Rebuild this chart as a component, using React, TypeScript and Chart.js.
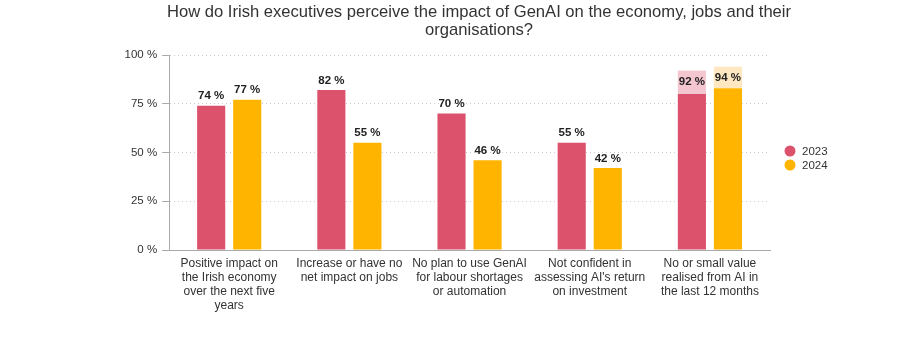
import React, { useEffect, useRef } from "react";
import { Chart, registerables } from "chart.js";

Chart.register(...registerables);

const titleLines = [
  "How do Irish executives perceive the impact of GenAI on the economy, jobs and their",
  "organisations?",
];
const categories = [
  ["Positive impact on", "the Irish economy", "over the next five", "years"],
  ["Increase or have no", "net impact on jobs"],
  ["No plan to use GenAI", "for labour shortages", "or automation"],
  ["Not confident in", "assessing AI's return", "on investment"],
  ["No or small value", "realised from AI in", "the last 12 months"],
];
const base2023 = [74, 82, 70, 55, 80];
const extra2023 = [0, 0, 0, 0, 12];
const base2024 = [77, 55, 46, 42, 83];
const extra2024 = [0, 0, 0, 0, 11];
const yTicks = [0, 25, 50, 75, 100];
const legendItems = ["2023", "2024"];

const FONT = "'Liberation Sans', Arial, sans-serif";
const RED = "#dc526d";
const RED_LIGHT = "#f4c6cf";
const YEL = "#ffb400";
const YEL_LIGHT = "#ffe7c2";

const labelPlugin = {
  id: "valueLabels",
  afterDraw(chart: any) {
    const ctx = chart.ctx;
    ctx.save();
    ctx.font = "bold 11.5px " + FONT;
    ctx.fillStyle = "#222";
    ctx.textAlign = "center";
    const pairs = [
      [0, 1, base2023, extra2023],
      [2, 3, base2024, extra2024],
    ];
    pairs.forEach(([bi, ei, b, e]: any) => {
      const bm = chart.getDatasetMeta(bi);
      const em = chart.getDatasetMeta(ei);
      b.forEach((v: number, i: number) => {
        const total = v + e[i];
        const bar = bm.data[i];
        if (e[i] > 0) {
          const eb = em.data[i];
          ctx.textBaseline = "middle";
          ctx.fillText(total + " %", eb.x, (eb.y + eb.base) / 2);
        } else {
          ctx.textBaseline = "bottom";
          ctx.fillText(total + " %", bar.x, bar.y - 4);
        }
      });
    });

    // title
    ctx.font = "16.6px " + FONT;
    ctx.fillStyle = "#333";
    ctx.textBaseline = "alphabetic";
    titleLines.forEach((t, i) => ctx.fillText(t, 479, 17 + i * 18));

    // legend
    const area = chart.chartArea;
    const colors = [RED, YEL];
    const cy = (area.top + area.bottom) / 2;
    ctx.font = "11.5px " + FONT;
    ctx.textAlign = "left";
    ctx.textBaseline = "middle";
    legendItems.forEach((t, i) => {
      const y = cy - 1.5 + i * 14;
      ctx.fillStyle = colors[i];
      ctx.beginPath();
      ctx.arc(area.right + 20, y, 5.5, 0, Math.PI * 2);
      ctx.fill();
      ctx.fillStyle = "#333";
      ctx.fillText(t, area.right + 32, y + 0.5);
    });
    ctx.restore();
  },
};

export default function App() {
  const ref = useRef<HTMLCanvasElement>(null);
  useEffect(() => {
    document.body.style.margin = "0";
    const ds = (label: string, data: number[], color: string, stack: string) => ({
      label, data, backgroundColor: color, stack, barPercentage: 0.78, categoryPercentage: 0.6,
    });
    const chart = new Chart(ref.current as HTMLCanvasElement, {
      type: "bar",
      data: {
        labels: categories as any,
        datasets: [
          ds("2023", base2023, RED, "a"),
          ds("2023 extra", extra2023, RED_LIGHT, "a"),
          ds("2024", base2024, YEL, "b"),
          ds("2024 extra", extra2024, YEL_LIGHT, "b"),
        ],
      },
      options: {
        animation: false,
        responsive: true,
        maintainAspectRatio: false,
        layout: { padding: { left: 119.5, right: 150, top: 55, bottom: 37 } },
        plugins: {
          title: { display: false },
          legend: { display: false },
          tooltip: { enabled: false },
        },
        scales: {
          x: {
            stacked: true,
            grid: { display: false, drawTicks: false },
            border: { display: true, color: "#aaa" },
            ticks: {
              color: "#333",
              padding: 7,
              maxRotation: 0,
              autoSkip: false,
              font: { size: 12, family: FONT, lineHeight: 14 / 12 },
            },
          },
          y: {
            stacked: true,
            min: 0,
            max: 100,
            afterBuildTicks: (axis: any) => {
              axis.ticks = yTicks.map((v) => ({ value: v }));
            },
            grid: { color: "#cccccc", tickColor: "#aaa", tickLength: 7, drawTicks: true },
            border: { display: true, color: "#aaa", dash: [1, 3] },
            ticks: {
              color: "#333",
              padding: 5,
              font: { size: 11.5, family: FONT },
              callback: (v: any) => v + " %",
            },
          },
        },
      },
      plugins: [labelPlugin],
    });
    return () => chart.destroy();
  }, []);
  return (
    <div style={{ position: "relative", width: "920px", height: "357px" }}>
      <canvas ref={ref} />
    </div>
  );
}
